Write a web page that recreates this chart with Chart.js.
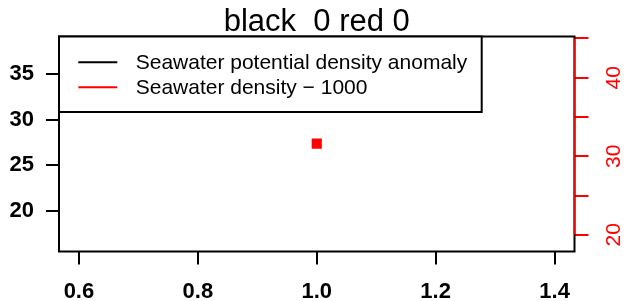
<!DOCTYPE html>
<html>
<head>
<meta charset="utf-8">
<script src="https://cdn.jsdelivr.net/npm/chart.js@4.4.1/dist/chart.umd.min.js"></script>
<style>
  html, body { margin: 0; padding: 0; background: #ffffff; }
  #wrap { width: 628px; height: 301px; }
</style>
</head>
<body>
<div id="wrap"><canvas id="c" width="628" height="301"></canvas></div>
<script>
// ---- data ----
const titleText = "black  0 red 0";
const xTicks = [0.6, 0.8, 1.0, 1.2, 1.4];
const leftTicks = [20, 25, 30, 35];
const rightTicks = [20, 25, 30, 35, 40, 45];
const rightLabelled = [20, 30, 40];
const legendLabels = ["Seawater potential density anomaly", "Seawater density \u2212 1000"];
const legendColors = ["#000000", "#ff0000"];
// red series: seawater density - 1000 (right axis)
const redX = [1.0];
const redY = [31.6];
// black series: potential density anomaly (no finite values)
const blackX = [];
const blackY = [];

const xRange = [0.5665, 1.4335];
const leftRange = [15.53, 39.14];
const rightRange = [17.87, 45.25];

const FONT = "'Liberation Sans', Arial, Helvetica, sans-serif";

const boxPlugin = {
  id: 'rbox',
  afterDatasetsDraw(chart) {
    const ctx = chart.ctx, a = chart.chartArea;
    ctx.save();
    // plot box
    ctx.strokeStyle = '#000';
    ctx.lineWidth = 2;
    ctx.strokeRect(a.left, a.top, a.right - a.left, a.bottom - a.top);
    // red right axis line between first and last tick
    const y2 = chart.scales.y2;
    ctx.strokeStyle = '#ff0000';
    ctx.beginPath();
    ctx.moveTo(a.right, y2.getPixelForValue(rightTicks[0]));
    ctx.lineTo(a.right, y2.getPixelForValue(rightTicks[rightTicks.length - 1]));
    ctx.stroke();
    // title
    ctx.fillStyle = '#000';
    ctx.font = "31px " + FONT;
    ctx.textAlign = 'center';
    ctx.textBaseline = 'alphabetic';
    ctx.fillText(titleText, (a.left + a.right) / 2, 30.7);
    // legend
    const lx = a.left, ly = a.top, lw = 481.7 - a.left, lh = 112 - a.top;
    ctx.fillStyle = '#fff';
    ctx.fillRect(lx, ly, lw, lh);
    ctx.strokeStyle = '#000';
    ctx.lineWidth = 2;
    ctx.strokeRect(lx, ly, lw, lh);
    ctx.font = "21px " + FONT;
    ctx.textAlign = 'left';
    legendLabels.forEach((t, i) => {
      const yy = 62.3 + i * 25;
      ctx.strokeStyle = legendColors[i];
      ctx.lineWidth = 2;
      ctx.beginPath();
      ctx.moveTo(78.3, yy);
      ctx.lineTo(117.3, yy);
      ctx.stroke();
      ctx.fillStyle = '#000';
      ctx.fillText(t, 135.7, yy + 7);
    });
    ctx.restore();
  }
};

new Chart(document.getElementById('c'), {
  type: 'scatter',
  data: {
    datasets: [
      {
        label: legendLabels[0],
        data: blackX.map((x, i) => ({x: x, y: blackY[i]})),
        yAxisID: 'y',
        backgroundColor: '#000', borderColor: '#000', showLine: true, pointRadius: 0
      },
      {
        label: legendLabels[1],
        data: redX.map((x, i) => ({x: x, y: redY[i]})),
        yAxisID: 'y2',
        pointStyle: 'rect',
        pointRadius: 7.2,
        backgroundColor: '#ff0000',
        borderColor: '#ff0000',
        borderWidth: 0
      }
    ]
  },
  options: {
    responsive: false,
    animation: false,
    devicePixelRatio: 1,
    layout: { padding: { top: 36.5, left: 0, right: 0, bottom: 0 } },
    plugins: { legend: { display: false }, title: { display: false }, tooltip: { enabled: false } },
    scales: {
      x: {
        type: 'linear', position: 'bottom',
        min: xRange[0], max: xRange[1],
        afterBuildTicks: s => { s.ticks = xTicks.map(v => ({value: v})); },
        afterFit: s => { s.height = 49.5; },
        border: { display: false },
        grid: { drawOnChartArea: false, drawTicks: true, tickLength: 13, lineWidth: 2, color: '#000', tickColor: '#000' },
        ticks: {
          color: '#000', padding: 16,
          font: { family: FONT, size: 22, weight: 'bold', lineHeight: 1 },
          callback: v => Number(v).toFixed(1)
        }
      },
      y: {
        type: 'linear', position: 'left',
        min: leftRange[0], max: leftRange[1],
        afterBuildTicks: s => { s.ticks = leftTicks.map(v => ({value: v})); },
        afterFit: s => { s.width = 59; },
        border: { display: false },
        grid: { drawOnChartArea: false, drawTicks: true, tickLength: 13, lineWidth: 2, color: '#000', tickColor: '#000' },
        ticks: {
          color: '#000', padding: 12,
          font: { family: FONT, size: 22, weight: 'bold', lineHeight: 1 },
          callback: v => String(v)
        }
      },
      y2: {
        type: 'linear', position: 'right',
        min: rightRange[0], max: rightRange[1],
        afterBuildTicks: s => { s.ticks = rightTicks.map(v => ({value: v})); },
        afterFit: s => { s.width = 53.5; },
        border: { display: false },
        grid: { drawOnChartArea: false, drawTicks: true, tickLength: 14, lineWidth: 2, color: '#ff0000', tickColor: '#ff0000' },
        ticks: {
          color: '#ff0000', padding: 14, minRotation: 90, maxRotation: 90, crossAlign: 'center',
          font: { family: FONT, size: 21, weight: 'normal', lineHeight: 1 },
          callback: v => rightLabelled.includes(v) ? String(v) : ''
        }
      }
    }
  },
  plugins: [boxPlugin]
});
</script>
</body>
</html>
